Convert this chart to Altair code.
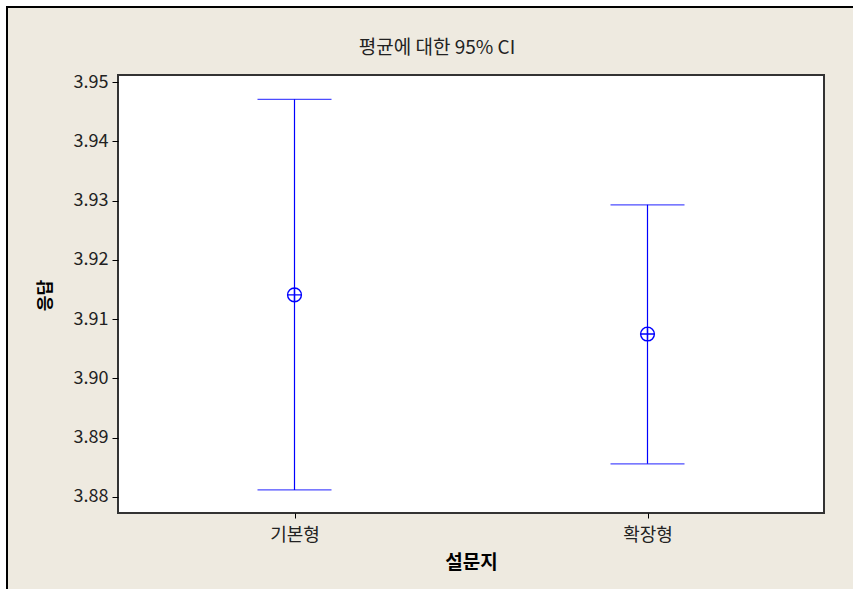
import altair as alt
import pandas as pd

categories = ["기본형", "확장형"]
means = [3.9141, 3.9075]
lowers = [3.8812, 3.8856]
uppers = [3.9471, 3.9293]
y_ticks = [3.88, 3.89, 3.90, 3.91, 3.92, 3.93, 3.94, 3.95]
title_text = ["평균에 대한 95% CI"]

df = pd.DataFrame({"설문지": categories, "mean": means, "lo": lowers, "hi": uppers})
one = pd.DataFrame({"a": [0]})
tdf = pd.DataFrame({"t": title_text})

W, H = 706, 438
FONT = "Noto Sans CJK KR"
BLUE = "#0000FF"
BEIGE = "#EEEAE0"

xenc = alt.X("설문지:N", sort=categories,
             scale=alt.Scale(type="point", padding=0.5),
             axis=alt.Axis(title="설문지", labelAngle=0, tickSize=5, tickColor="#000",
                           labelFontSize=18, labelColor="#222", labelPadding=8, labelFont=FONT,
                           titleFont=FONT, titleFontSize=19, titleFontWeight="bold",
                           titleColor="#000", titlePadding=9, domain=False, grid=False, zindex=1))
yscale = alt.Scale(domain=[3.8773, 3.9512], nice=False, zero=False)
yaxis = alt.Axis(title="응답", values=y_ticks, format=".2f", tickSize=6, tickColor="#000",
                 labelFontSize=18, labelColor="#222", labelPadding=4, labelFont=FONT,
                 titleFont=FONT, titleFontSize=17, titleFontWeight="bold", titleColor="#000",
                 titleX=-73, titleY=220, titleAngle=270, titleAlign="center", titleBaseline="middle",
                 domain=False, grid=False, zindex=1)

frame = alt.Chart(one).mark_rect(fill=BEIGE, stroke="#000", strokeWidth=2).encode(
    x=alt.value(-111), x2=alt.value(800), y=alt.value(-68), y2=alt.value(600))
plotbg = alt.Chart(one).mark_rect(fill="white", stroke="#333", strokeWidth=2).encode(
    x=alt.value(0), x2=alt.value(W), y=alt.value(0), y2=alt.value(H))
title = alt.Chart(tdf).mark_text(font=FONT, fontSize=19, color="#222", align="center",
                                 baseline="middle").encode(
    text="t:N", x=alt.value(319), y=alt.value(-27))

base = alt.Chart(df)
rule = base.mark_rule(color=BLUE, strokeWidth=1.2).encode(
    x=xenc, y=alt.Y("lo:Q", scale=yscale, axis=yaxis), y2="hi:Q")
cap_lo = base.mark_tick(color=BLUE, size=74, thickness=1.3, orient="horizontal").encode(
    x=alt.X("설문지:N", sort=categories), y=alt.Y("lo:Q"))
cap_hi = base.mark_tick(color=BLUE, size=74, thickness=1.3, orient="horizontal").encode(
    x=alt.X("설문지:N", sort=categories), y=alt.Y("hi:Q"))
pt = base.mark_point(shape="M-1,0A1,1 0 1,0 1,0A1,1 0 1,0 -1,0M-1,0H1M0,-1V1",
                     color=BLUE, filled=False, size=190, strokeWidth=1.4, opacity=1).encode(
    x=alt.X("설문지:N", sort=categories), y=alt.Y("mean:Q"))

chart = alt.layer(frame, plotbg, title, rule, cap_lo, cap_hi, pt).properties(
    width=W, height=H,
    autosize=alt.AutoSizeParams(type="none"),
    padding={"left": 118, "top": 75, "right": 29, "bottom": 76},
    background="white",
).configure_view(stroke=None)

chart.save("out.html", embed_options={"renderer": "svg", "actions": False})
